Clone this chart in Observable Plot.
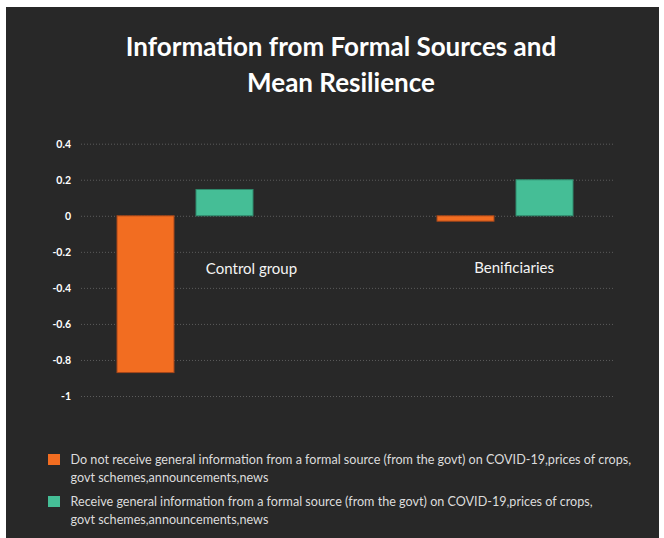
<!DOCTYPE html>
<html>
<head>
<meta charset="utf-8">
<script src="https://cdn.jsdelivr.net/npm/d3@7"></script>
<script src="https://cdn.jsdelivr.net/npm/@observablehq/plot@0.6"></script>
<style>
  body { margin: 0; background: #ffffff; }
  #panel {
    position: absolute; left: 6px; top: 7px; width: 653px; height: 531px;
    background: #282828; font-family: Lato, "Open Sans", sans-serif; overflow: hidden;
  }
  #title {
    position: absolute; left: 0; top: 22px; width: 670px; text-align: center;
    font-weight: bold; font-size: 26px; line-height: 35.7px; color: #ffffff;
  }
  #chart { position: absolute; left: 0; top: 113px; }
  #legend { position: absolute; left: 42px; top: 444px; color: #dcdcdc; font-size: 12.6px; line-height: 18px; }
  .item { position: relative; padding-left: 22.5px; white-space: nowrap; margin-bottom: 5.7px; }
  .swatch { position: absolute; left: 0; top: 3px; width: 12px; height: 11px; }
</style>
</head>
<body>
<div id="panel">
  <div id="title">Information from Formal Sources and<br>Mean Resilience</div>
  <div id="chart"></div>
  <div id="legend"></div>
</div>
<script>
// Groups along the x axis
const categories = ["Control group", "Benificiaries"];

// Mean resilience by access to formal information
const noInfoValues = [-0.87, -0.03];
const infoValues = [0.146, 0.2];

// Legend entries (two lines each) and series colours
const seriesLines = [
  ["Do not receive general information from a formal source (from the govt) on COVID-19,prices of crops,", "govt schemes,announcements,news"],
  ["Receive general information from a formal source (from the govt) on COVID-19,prices of crops,", "govt schemes,announcements,news"]
];
const seriesColors = ["#F26D21", "#45BE96"];
const seriesStrokes = ["#a5461a", "#2f8a6c"];

// Y axis ticks
const yTicks = [0.4, 0.2, 0, -0.2, -0.4, -0.6, -0.8, -1];

const rows = categories.map((group, i) => ({group, noInfo: noInfoValues[i], info: infoValues[i]}));

const chart = Plot.plot({
  width: 653,
  height: 300,
  marginLeft: 75,
  marginRight: 46,
  marginTop: 23.7,
  marginBottom: 24,
  style: {background: "transparent", color: "#ffffff", fontFamily: "Lato, sans-serif", fontSize: "10.5px", fontWeight: "bold", overflow: "visible"},
  x: {domain: categories, range: [110.5, 567.4], paddingInner: 0.576, paddingOuter: 0, axis: null},
  y: {domain: [-1, 0.4], ticks: yTicks, tickFormat: d => String(d), tickSize: 0, tickPadding: 10.5, label: null},
  marks: [
    Plot.ruleY(yTicks, {stroke: "#5c5c5c", strokeWidth: 1, strokeDasharray: "1,2"}),
    Plot.barY(rows, {x: "group", y: "noInfo", fill: seriesColors[0], stroke: seriesStrokes[0], strokeWidth: 1, insetRight: 79}),
    Plot.barY(rows, {x: "group", y: "info", fill: seriesColors[1], stroke: seriesStrokes[1], strokeWidth: 1, insetLeft: 79}),
    Plot.text(rows, {filter: d => d.group === categories[0], x: "group", y: () => 0, text: "group", dx: 66, dy: 53, fontSize: 15, fontWeight: "normal", fill: "#f4f4f4"}),
    Plot.text(rows, {filter: d => d.group === categories[1], x: "group", y: () => 0, text: "group", dx: 8.6, dy: 52, fontSize: 15, fontWeight: "normal", fill: "#f4f4f4"})
  ]
});
document.getElementById("chart").appendChild(chart);

// Legend below the plot
const legend = document.getElementById("legend");
seriesLines.forEach((lines, i) => {
  const item = document.createElement("div");
  item.className = "item";
  const sw = document.createElement("span");
  sw.className = "swatch";
  sw.style.background = seriesColors[i];
  item.appendChild(sw);
  lines.forEach((line, j) => {
    if (j > 0) item.appendChild(document.createElement("br"));
    item.appendChild(document.createTextNode(line));
  });
  legend.appendChild(item);
});
</script>
</body>
</html>
